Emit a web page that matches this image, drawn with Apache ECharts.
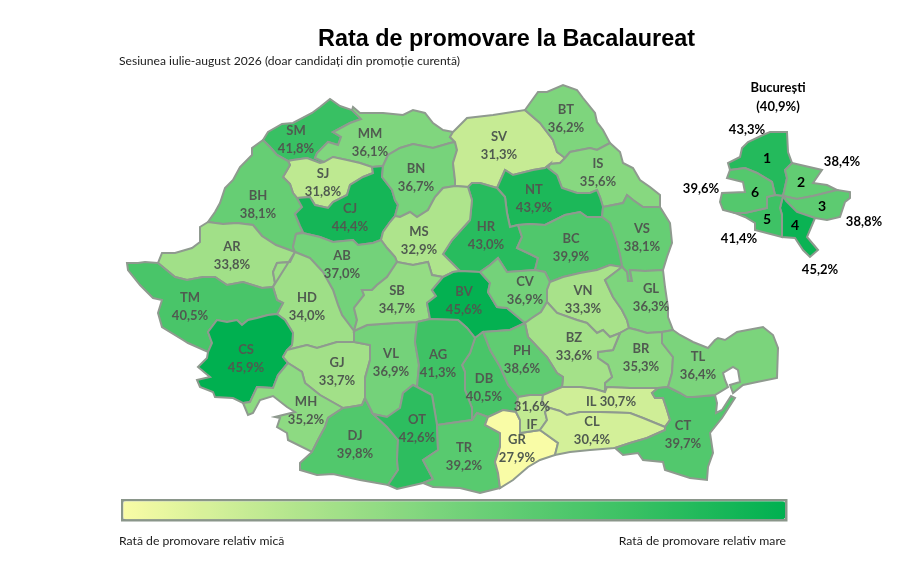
<!DOCTYPE html>
<html><head><meta charset="utf-8">
<style>html,body{margin:0;padding:0;background:#fff}#c{width:910px;height:574px}</style>
<script src="https://cdn.jsdelivr.net/npm/echarts@6/dist/echarts.min.js"></script>
</head><body><div id="c"></div>
<script>
const countyNames=['SM','MM','SJ','BH','CJ','BN','SV','BT','IS','NT','VS','HR','BC','MS','AB','AR','HD','TM','CS','GJ','MH','DJ','VL','SB','BV','CV','VN','GL','BR','BZ','PH','DB','AG','OT','TR','GR','IF','IL','CL','CT','TL'];
const countyValues=[41.8,36.1,31.8,38.1,44.4,36.7,31.3,36.2,35.6,43.9,38.1,43.0,39.9,32.9,37.0,33.8,34.0,40.5,45.9,33.7,35.2,39.8,36.9,34.7,45.6,36.9,33.3,36.3,35.3,33.6,38.6,40.5,41.3,42.6,39.2,27.9,31.6,30.7,30.4,39.7,36.4];
const sectorNames=['1','2','3','4','5','6'];
const sectorValues=[43.3,38.4,38.8,45.2,41.4,39.6];
const cityTitle=['București','(40,9%)'];
const titleText='Rata de promovare la Bacalaureat';
const subtitleText='Sesiunea iulie-august 2026 (doar candidați din promoție curentă)';
const legendLow='Rată de promovare relativ mică';
const legendHigh='Rată de promovare relativ mare';

// map geometry: shared borders
const arcs={
o_SM:[[263,140],[268,132],[282,124],[293,123],[312,113],[320,107],[330,99],[340,106],[352,110]],
SM_MM:[[352,110],[361,119],[350,123],[337,130],[333,132],[341,137],[338,145],[328,142],[317,153],[315,158],[324,162]],
SM_SJ:[[324,162],[320,163],[307,158],[293,160],[288,161]],
SM_BH:[[288,161],[277,155],[270,147],[263,140]],
o_BH:[[263,140],[252,148],[252,155],[240,167],[233,180],[225,188],[220,203],[215,212],[208,222]],
BH_AR:[[208,222],[223,224],[237,223],[253,225],[262,236],[276,245],[295,252]],
BH_AB:[[295,252],[293,247],[296,234]],
BH_CJ:[[296,234],[303,232],[300,226],[295,214],[302,207],[297,198]],
BH_SJ:[[297,198],[293,193],[290,184],[283,177],[290,165],[288,161]],
SJ_CJ:[[297,198],[310,197],[315,205],[328,208],[333,202],[347,195],[350,185],[363,177],[373,173],[372,167]],
MM_SJ:[[324,162],[333,157],[347,160],[360,163],[372,167]],
MM_CJ:[[372,167],[383,166]],
MM_BN:[[383,166],[388,155],[400,148],[413,144],[433,148],[450,143],[455,142]],
o_MM:[[352,110],[353,107],[360,113],[383,113],[403,115],[413,110],[425,113],[433,123],[443,130],[453,132]],
MM_SV:[[453,132],[450,137],[455,142]],
o_SV:[[453,132],[467,118],[493,115],[525,110]],
SV_BT:[[525,110],[540,123],[553,140],[557,152],[565,158]],
o_BT:[[525,110],[538,92],[547,92],[563,85],[577,90],[583,98],[595,113],[597,122],[603,130],[610,143]],
BT_IS:[[565,158],[570,152],[590,148],[597,150],[610,143]],
SV_IS:[[565,158],[560,163],[550,164]],
SV_NT:[[550,164],[545,168],[533,170],[513,175],[505,170],[497,188]],
SV_HR:[[497,188],[480,183],[472,183],[468,187]],
SV_MS:[[468,187],[455,186]],
SV_BN:[[455,186],[455,180],[453,163],[457,150],[455,142]],
BN_MS:[[455,186],[443,188],[435,197],[428,210],[417,217],[410,212],[400,217],[395,216]],
BN_CJ:[[383,166],[382,177],[392,190],[395,200],[398,205],[395,216]],
CJ_MS:[[395,216],[390,222],[383,232],[381,240]],
CJ_AB:[[381,240],[373,243],[358,245],[353,240],[333,242],[320,237],[303,233],[296,234]],
MS_AB:[[381,240],[387,248],[395,257],[397,262]],
MS_SB:[[397,262],[413,265],[428,262],[432,275],[443,277]],
MS_BV:[[443,277],[453,272],[460,271]],
MS_HR:[[460,271],[443,254],[452,240],[470,220],[472,200],[468,187]],
HR_BV:[[460,271],[480,272]],
HR_CV:[[480,272],[490,265],[498,258],[507,272],[535,270]],
HR_BC:[[535,270],[538,258],[530,254],[517,248],[522,237],[518,225]],
HR_NT:[[518,225],[510,227],[507,213],[505,197],[497,188]],
NT_IS:[[550,164],[548,168],[557,175],[562,188],[577,193],[590,193],[597,190],[600,197],[603,207]],
NT_VS:[[603,207],[602,217]],
NT_BC:[[602,217],[587,217],[580,212],[565,215],[545,225],[530,224],[518,225]],
o_IS:[[610,143],[620,152],[623,163],[633,168],[640,180],[650,187],[660,195],[660,207]],
IS_VS:[[660,207],[643,207],[633,200],[627,195],[623,203],[603,207]],
o_VS:[[660,207],[670,223],[672,243],[667,257],[663,270]],
VS_BC:[[602,217],[610,223],[617,243],[620,255],[622,267]],
BC_VN:[[622,267],[610,265],[597,270],[580,273],[563,277],[550,282]],
BC_CV:[[535,270],[545,272],[550,282]],
VN_GL:[[622,267],[605,280],[613,297],[622,310],[627,320],[629,328]],
VS_GL:[[622,267],[627,272],[628,281],[632,281],[630,270],[645,271],[663,270]],
o_GL:[[663,270],[665,287],[668,307],[668,317],[673,330]],
GL_TL:[[673,330],[662,332]],
GL_BR:[[662,332],[647,333],[637,330],[629,328]],
VN_BR:[[629,328],[620,333]],
VN_BZ:[[620,333],[610,337],[603,330],[597,333],[587,323],[577,320],[557,313],[547,302]],
VN_CV:[[550,282],[547,290],[547,302]],
CV_BZ:[[547,302],[541,312],[532,318],[525,323]],
CV_BV:[[480,272],[490,283],[488,292],[497,307],[507,308],[525,323]],
BV_SB:[[443,277],[432,290],[436,296],[427,303],[430,319]],
BV_AG:[[430,319],[458,320],[467,328],[475,338]],
BV_DB:[[475,338],[483,332]],
BV_PH:[[483,332],[510,330],[525,323]],
SB_AG:[[417,322],[430,319]],
SB_VL:[[417,322],[395,323],[367,325],[354,331]],
AB_SB:[[397,262],[387,277],[377,285],[372,290],[362,290],[364,295],[354,308],[357,320],[354,331]],
AB_HD:[[295,252],[310,258],[323,272],[333,290],[338,305],[342,315],[354,331]],
AR_HD:[[295,252],[290,262],[277,263],[273,272],[275,283],[273,287]],
AR_TM:[[158,263],[175,277],[187,280],[203,277],[215,277],[227,285],[243,282],[262,288],[273,287]],
o_AR:[[208,222],[200,227],[200,242],[192,248],[175,253],[162,253],[158,263]],
o_TM:[[158,263],[145,262],[138,263],[127,263],[128,270],[140,285],[153,298],[162,300],[158,313],[162,327],[183,340],[188,343],[208,352]],
TM_HD:[[273,287],[277,300],[283,303],[277,314]],
TM_CS:[[208,352],[212,343],[208,332],[217,320],[227,322],[237,320],[242,325],[248,320],[257,318],[268,315],[277,314]],
CS_HD:[[277,314],[285,320],[293,333],[292,345],[287,350]],
HD_GJ:[[287,350],[307,345],[317,348],[337,342],[354,342]],
HD_VL:[[354,342],[354,331]],
CS_GJ:[[287,350],[283,357],[288,363]],
GJ_MH:[[288,363],[302,372],[305,383],[320,395],[343,408]],
GJ_DJ:[[343,408],[350,407],[362,405],[365,398]],
GJ_VL:[[354,342],[370,345],[370,360],[365,378],[365,398]],
CS_MH:[[288,363],[278,375],[273,388],[257,387],[250,402],[243,403]],
o_CS:[[208,352],[207,358],[198,367],[210,377],[197,380],[200,387],[213,392],[215,397],[233,398],[243,403]],
o_MH:[[243,403],[248,415],[253,413],[260,400],[273,396],[287,407],[295,412],[275,417],[280,418],[277,427],[287,433],[288,440],[312,452]],
MH_DJ:[[343,408],[328,418],[325,427],[318,440],[312,452]],
o_DJ:[[312,452],[300,463],[300,470],[317,475],[333,474],[360,480],[388,485]],
VL_DJ:[[365,398],[373,414]],
DJ_OT:[[373,414],[387,427],[398,440],[397,460],[398,470],[388,485]],
VL_OT:[[373,414],[387,417],[400,408],[403,393],[413,385],[417,387]],
VL_AG:[[417,322],[415,342],[419,365],[417,387]],
AG_OT:[[417,387],[432,395],[437,425]],
AG_TR:[[437,425],[472,420]],
OT_TR:[[437,425],[438,450],[423,460],[433,479],[423,483]],
o_OT:[[388,485],[397,489],[423,483]],
o_TR:[[423,483],[433,487],[460,488],[480,493],[500,488]],
TR_DB:[[472,420],[477,413],[488,417]],
TR_GR:[[488,417],[485,425],[500,433],[500,447],[495,462],[498,473],[500,488]],
GR_DB:[[488,417],[503,410],[516,412]],
DB_IF:[[518,397],[516,412]],
DB_PH:[[483,332],[490,350],[500,367],[508,385],[518,397]],
DB_AG:[[475,338],[470,353],[462,365],[465,372],[465,390],[472,408],[472,420]],
IF_GR:[[516,412],[520,420],[520,433],[540,430]],
IF_CL:[[540,430],[547,420],[545,412],[550,408]],
IF_IL:[[550,408],[542,403],[543,395]],
IF_PH:[[518,397],[530,395],[543,395]],
PH_BZ:[[525,323],[528,337],[547,357],[557,373],[563,377],[562,387]],
PH_IL:[[543,395],[550,392],[562,387]],
BZ_IL:[[562,387],[580,387],[595,389],[605,392]],
BZ_BR:[[620,333],[613,350],[598,352],[598,358],[608,365],[612,377],[605,383],[605,392]],
IL_BR:[[605,392],[607,387],[630,388],[658,388]],
BR_TL:[[662,332],[662,343],[673,357],[672,373],[668,387]],
BR_CT:[[668,387],[658,388]],
IL_CT:[[658,388],[652,393],[655,398],[663,398],[667,410],[670,420],[665,427]],
IL_CL:[[550,408],[560,411],[567,415],[580,412],[600,412],[630,413],[643,418],[665,427]],
CL_CT:[[665,427],[665,430],[647,438],[630,443],[615,448]],
CL_GR:[[540,430],[558,443],[555,455]],
o_CL:[[555,455],[570,452],[590,450],[615,448]],
o_GR:[[555,455],[540,460],[528,467],[513,480],[500,488]],
TL_CT:[[668,387],[680,393],[687,397],[693,397],[715,395]],
o_CT:[[615,448],[623,455],[638,453],[643,460],[663,462],[665,470],[690,478],[707,480],[708,467],[713,453],[710,433],[722,418],[735,398],[731,396],[722,410],[716,413],[717,403],[715,395]],
o_TL:[[673,330],[680,335],[693,342],[708,348],[715,340],[718,338],[725,340],[737,332],[763,327],[773,335],[778,348],[777,378],[757,382],[743,385],[733,393],[730,385],[740,382],[738,370],[733,367],[723,373],[725,380],[728,387],[715,395]],
B_o1:[[730,170],[728,163],[740,157],[742,148],[748,142],[763,135],[770,132],[787,132],[788,152],[792,163]],
B_12:[[792,163],[785,170],[787,178],[783,196]],
B_16:[[730,170],[745,168],[757,173],[772,182],[775,195]],
B_15:[[775,195],[783,196]],
B_o2:[[792,163],[822,170],[813,183],[827,185],[837,190]],
B_23:[[837,190],[813,196],[797,199],[783,196]],
B_o3:[[837,190],[850,192],[850,198],[845,202],[840,217],[827,220],[815,218]],
B_34:[[815,218],[797,212],[786,201],[783,196]],
B_o4:[[815,218],[807,237],[818,250],[810,257],[803,250],[795,238],[782,237]],
B_45:[[782,237],[782,215],[780,208],[783,196]],
B_o5:[[782,237],[755,230],[755,223],[745,217],[735,213]],
B_56:[[735,213],[745,213],[767,208],[767,197],[775,195]],
B_o6:[[735,213],[723,210],[720,202],[722,193],[745,192],[743,182],[727,178],[730,170]]
};
const rings={
SM:'o_SM SM_MM SM_SJ SM_BH',MM:'o_MM MM_SV -MM_BN -MM_CJ -MM_SJ -SM_MM',SJ:'-SM_SJ MM_SJ -SJ_CJ BH_SJ',
BH:'o_BH BH_AR BH_AB BH_CJ BH_SJ SM_BH',CJ:'SJ_CJ MM_CJ BN_CJ CJ_MS CJ_AB BH_CJ',BN:'MM_BN -SV_BN BN_MS -BN_CJ',
SV:'o_SV SV_BT SV_IS SV_NT SV_HR SV_MS SV_BN -MM_SV',BT:'o_BT -BT_IS -SV_BT',IS:'BT_IS o_IS IS_VS -NT_IS -SV_IS',
NT:'-SV_NT NT_IS NT_VS NT_BC HR_NT',VS:'-IS_VS o_VS -VS_GL -VS_BC -NT_VS',HR:'-SV_HR -HR_NT -HR_BC -HR_CV -HR_BV MS_HR',
BC:'-NT_BC VS_BC BC_VN -BC_CV HR_BC',MS:'-SV_MS -MS_HR -MS_BV -MS_SB -MS_AB -CJ_MS -BN_MS',AB:'-CJ_AB MS_AB AB_SB -AB_HD BH_AB',
AR:'o_AR AR_TM -AR_HD -BH_AR',HD:'AB_HD -HD_VL -HD_GJ -CS_HD -TM_HD AR_HD',TM:'o_TM TM_CS -TM_HD -AR_TM',
CS:'-TM_CS o_CS -CS_MH -CS_GJ -CS_HD',GJ:'HD_GJ GJ_VL -GJ_DJ -GJ_MH -CS_GJ',MH:'CS_MH o_MH -MH_DJ -GJ_MH',
DJ:'GJ_DJ VL_DJ DJ_OT -o_DJ -MH_DJ',VL:'HD_VL -SB_VL VL_AG -VL_OT -VL_DJ -GJ_VL',SB:'MS_SB BV_SB -SB_AG SB_VL -AB_SB',
BV:'MS_BV HR_BV CV_BV -BV_PH -BV_DB -BV_AG -BV_SB',CV:'HR_CV BC_CV VN_CV CV_BZ -CV_BV',VN:'-BC_VN VN_GL VN_BR VN_BZ -VN_CV',
GL:'VS_GL o_GL GL_TL GL_BR -VN_GL',BR:'-GL_BR BR_TL BR_CT -IL_BR -BZ_BR -VN_BR',BZ:'-CV_BZ -VN_BZ BZ_BR -BZ_IL -PH_BZ',
PH:'BV_PH PH_BZ -PH_IL -IF_PH -DB_PH',DB:'BV_DB DB_PH DB_IF -GR_DB -TR_DB -DB_AG',AG:'SB_AG BV_AG DB_AG -AG_TR -AG_OT -VL_AG',
OT:'VL_OT AG_OT OT_TR -o_OT -DJ_OT',TR:'AG_TR TR_DB TR_GR -o_TR -OT_TR',GR:'GR_DB IF_GR CL_GR o_GR -TR_GR',
IF:'-DB_IF IF_PH -IF_IL -IF_CL -IF_GR',IL:'PH_IL BZ_IL IL_BR IL_CT -IL_CL IF_IL',CL:'IF_CL IL_CL CL_CT -o_CL -CL_GR',
CT:'-BR_CT TL_CT -o_CT -CL_CT -IL_CT',TL:'-GL_TL o_TL -TL_CT -BR_TL',
'1':'B_o1 B_12 -B_15 -B_16','2':'B_o2 B_23 -B_12','3':'B_o3 B_34 -B_23','4':'B_o4 B_45 -B_34','5':'B_o5 B_56 B_15 -B_45','6':'B_o6 B_16 -B_56'
};
const labelAt={SM:[296,140],MM:[370,143],BT:[566,119],SV:[499,146],IS:[598,173],BN:[416,178],SJ:[323,183],BH:[258,205],CJ:[350,218],NT:[534,199],HR:[486,236],BC:[571,248],VS:[642,238],MS:[419,241],AB:[342,265],AR:[232,256],TM:[190,307],HD:[307,307],SB:[397,300],BV:[464,301],CV:[525,291],VN:[583,300],GL:[651,298],CS:[246,359],GJ:[337,372],VL:[391,363],AG:[438,364],DB:[484,388],PH:[522,360],BZ:[574,347],BR:[641,358],TL:[698,366],MH:[306,411],DJ:[355,445],OT:[417,429],TR:[464,457],GR:[517,449],CT:[683,435],CL:[592,431],IL:[611,402],IF:[532,416],'1':[767,158],'2':[801,182],'3':[822,206],'4':[795,225],'5':[767,219],'6':[755,192]};
const sectorLabelAt=[[747,130],[842,162],[864,222],[820,270],[739,239],[701,189]];

function chain(spec){
  const out=[];
  spec.split(' ').forEach(k=>{
    const rev=k[0]==='-';
    let a=arcs[rev?k.slice(1):k];
    if(rev)a=a.slice().reverse();
    a.forEach(p=>{const l=out[out.length-1];if(!l||l[0]!==p[0]||l[1]!==p[1])out.push(p);});
  });
  return out;
}
const features=Object.keys(rings).map(n=>{
  const r=chain(rings[n]);
  if(r[0][0]!==r[r.length-1][0]||r[0][1]!==r[r.length-1][1])r.push(r[0]);
  return {type:'Feature',properties:{name:n,cp:labelAt[n]},geometry:{type:'Polygon',coordinates:[r]}};
});
echarts.registerMap('ro',{type:'FeatureCollection',features});
let x0=1e9,y0=1e9,x1=-1e9,y1=-1e9;
features.forEach(f=>f.geometry.coordinates[0].forEach(p=>{x0=Math.min(x0,p[0]);x1=Math.max(x1,p[0]);y0=Math.min(y0,p[1]);y1=Math.max(y1,p[1]);}));

const fmt=v=>v.toFixed(1).replace('.',',')+'%';
const labelFont='Lato';
const textColor='#505a50';
const countyData=countyNames.map((n,i)=>({name:n,value:countyValues[i]}));
const sectorData=sectorNames.map((n,i)=>({name:n,value:sectorValues[i],label:{color:'#000',fontSize:14,fontWeight:'bold'}}));
const chart=echarts.init(document.getElementById('c'));
const txt=(x,y,t,s)=>({type:'text',x:x,y:y,silent:true,style:Object.assign({text:t,fontFamily:labelFont,fontSize:13,fill:'#000',align:'center',verticalAlign:'middle'},s||{})});
chart.setOption({
  animation:false,
  backgroundColor:'#fff',
  title:{text:titleText,left:501.5,top:23,textAlign:'center',textStyle:{fontFamily:'Liberation Sans',fontSize:23.4,fontWeight:'bold',color:'#000'}},
  visualMap:{type:'continuous',min:27.9,max:45.9,orient:'horizontal',left:121,top:499,itemWidth:18,itemHeight:662,padding:1,calculable:false,realtime:false,text:null,showLabel:false,
    borderColor:'#8a968a',borderWidth:2.5,hoverLink:false,seriesIndex:0,
    inRange:{color:['#F9FCA6','#B5E68E','#74D27A','#3EC265','#00B050']}},
  series:[{type:'map',map:'ro',projection:{project:p=>p,unproject:p=>p},left:x0,top:y0,width:x1-x0,height:y1-y0,
    roam:false,silent:true,selectedMode:false,showLegendSymbol:false,
    itemStyle:{borderColor:'#8f9a8f',borderWidth:2},
    label:{show:true,fontFamily:labelFont,fontSize:13,fontWeight:'bold',color:textColor,lineHeight:18,
      formatter:p=>{
        if(sectorNames.includes(p.name))return p.name;
        if(p.name==='IL')return p.name+' '+fmt(p.value);
        if(p.name==='IF')return fmt(p.value)+'\n'+p.name;
        return p.name+'\n'+fmt(p.value);
      }},
    data:countyData.concat(sectorData)}],
  graphic:[
    txt(119,61,subtitleText,{align:'left',fontSize:12.1,fill:'#1a1a1a'}),
    txt(119,541,legendLow,{align:'left',fontSize:12.2,fill:'#1a1a1a'}),
    txt(786,541,legendHigh,{align:'right',fontSize:12.2,fill:'#1a1a1a'}),
    txt(778,88,cityTitle[0],{fontWeight:'bold'}),
    txt(778,107,cityTitle[1],{fontWeight:'bold'})
  ].concat(sectorValues.map((v,i)=>txt(sectorLabelAt[i][0],sectorLabelAt[i][1],fmt(v),{fontWeight:'bold'})))
});
</script></body></html>
